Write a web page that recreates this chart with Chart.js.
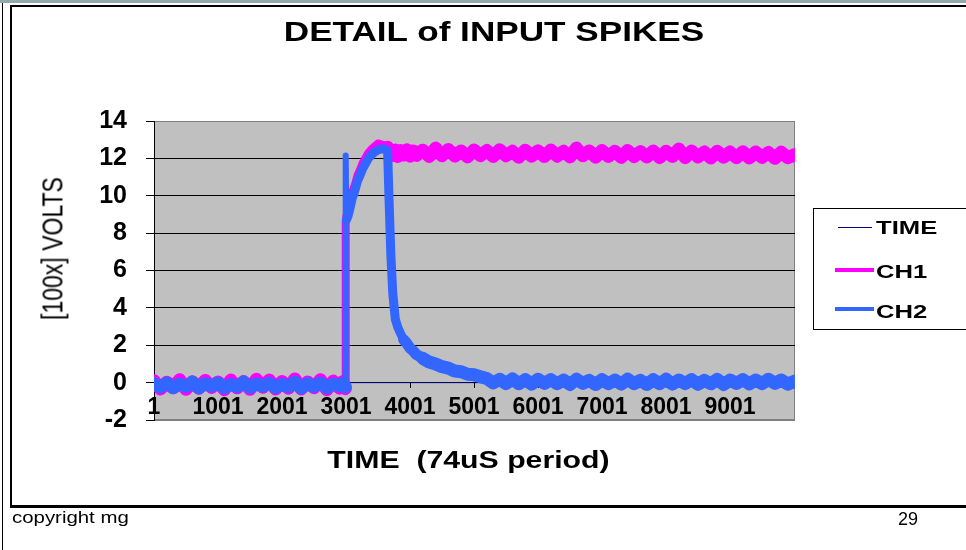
<!DOCTYPE html>
<html>
<head>
<meta charset="utf-8">
<title>DETAIL of INPUT SPIKES</title>
<script src="https://cdn.jsdelivr.net/npm/chart.js@4"></script>
<style>
  html, body { margin: 0; padding: 0; background: #fff; }
  body { width: 966px; height: 550px; position: relative; overflow: hidden;
         font-family: "Liberation Sans", Arial, sans-serif; color: #000; }
  .abs { position: absolute; white-space: pre; }
  #topbar { left: 0; top: 0; width: 966px; height: 3px; background: #94a9a9; }
  #outer { left: 2px; top: 3px; width: 1px; height: 547px; background: #000; }
  #frame { left: 10px; top: 5px; width: 1000px; height: 498px;
           border-left: 2px solid #000; border-top: 2px solid #000; border-bottom: 3px solid #000; }
  #chart { position: absolute; left: 0; top: 0; }
  #title { left: 0; top: 18px; width: 988px; text-align: center; font-weight: bold;
           font-size: 28px; line-height: 28px; transform: scaleX(1.255); }
  #xtitle { left: 0; top: 448px; width: 937px; text-align: center; font-weight: bold;
            font-size: 24px; line-height: 24px; transform: scaleX(1.26); }
  #ytitle { left: -47px; top: 237px; width: 200px; height: 23px; text-align: center;
            font-size: 23px; line-height: 23px; transform: scaleX(1.3) rotate(-90deg); }
  #legend { left: 813px; top: 208px; width: 170px; height: 120px; border: 1px solid #000; }
  .lg-line { position: absolute; }
  .lg-text { font-weight: bold; font-size: 19px; line-height: 19px; transform: scaleX(1.35);
             transform-origin: left center; }
  #copy { left: 12px; top: 509px; font-size: 17px; line-height: 17px; transform: scaleX(1.2);
          transform-origin: left center; }
  #page { left: 898px; top: 510px; font-size: 18px; line-height: 18px; }
</style>
</head>
<body>
<div class="abs" id="topbar"></div>
<div class="abs" id="outer"></div>
<div class="abs" id="frame"></div>
<canvas id="chart" width="966" height="550"></canvas>

<div class="abs" id="title">DETAIL of INPUT SPIKES</div>
<div class="abs" id="ytitle">[100x] VOLTS</div>
<div class="abs" id="xtitle">TIME  (74uS period)</div>

<div class="abs" id="legend"></div>
<div class="lg-line" style="left:838px;top:227px;width:34px;height:1px;background:#000080"></div>
<div class="abs lg-text" style="left:876px;top:218px">TIME</div>
<div class="lg-line" style="left:835px;top:268px;width:39px;height:4px;background:#ff00ff"></div>
<div class="abs lg-text" style="left:876px;top:262px">CH1</div>
<div class="lg-line" style="left:835px;top:307px;width:39px;height:4px;background:#3366ff"></div>
<div class="abs lg-text" style="left:876px;top:302px">CH2</div>

<div class="abs" id="copy">copyright mg</div>
<div class="abs" id="page">29</div>

<script>
// ─── Data (sample number -> volts /100) ───────────────────

const sampleNo = [
    1, 101, 201, 301, 401, 501, 601, 701, 801, 901,
    1001, 1101, 1201, 1301, 1401, 1501, 1601, 1701, 1801, 1901,
    2001, 2101, 2201, 2301, 2401, 2501, 2601, 2701, 2801, 2901,
    2951, 2991, 2996, 3006, 3031, 3061, 3101, 3141, 3181, 3221,
    3261, 3301, 3351, 3401, 3451, 3501, 3551, 3601, 3651, 3676,
    3701, 3731, 3771, 3811, 3851, 3901, 3951, 4001, 4051, 4101,
    4201, 4301, 4401, 4501, 4601, 4701, 4801, 4901, 5001, 5101,
    5201, 5301, 5401, 5501, 5601, 5701, 5801, 5901, 6001, 6101,
    6201, 6301, 6401, 6501, 6601, 6701, 6801, 6901, 7001, 7101,
    7201, 7301, 7401, 7501, 7601, 7701, 7801, 7901, 8001, 8101,
    8201, 8301, 8401, 8501, 8601, 8701, 8801, 8901, 9001, 9101,
    9201, 9301, 9401, 9501, 9601, 9701, 9801, 9901, 10016
];

const ch1Volts = [
    0.10, -0.34, 0.02, -0.28, 0.16, -0.36, 0.05, -0.30, 0.12, -0.26,
    0.04, -0.38, 0.14, -0.28, 0.06, -0.36, 0.18, -0.25, 0.14, -0.34,
    0.06, -0.30, 0.20, -0.34, 0.04, -0.28, 0.16, -0.38, 0.08, -0.30,
    0.05, -0.32, 8.60, 8.90, 9.20, 9.60, 10.20, 10.60, 11.10, 11.40,
    11.75, 12.00, 12.30, 12.50, 12.65, 12.80, 12.75, 12.70, 12.60, 12.45,
    12.40, 12.15, 12.45, 12.10, 12.42, 12.18, 12.46, 12.12, 12.40, 12.16,
    12.44, 12.10, 12.55, 12.14, 12.48, 12.12, 12.40, 12.08, 12.45, 12.15,
    12.42, 12.10, 12.46, 12.14, 12.38, 12.06, 12.44, 12.12, 12.40, 12.10,
    12.45, 12.12, 12.38, 12.08, 12.55, 12.14, 12.40, 12.06, 12.42, 12.10,
    12.38, 12.05, 12.42, 12.10, 12.36, 12.08, 12.40, 12.04, 12.38, 12.10,
    12.50, 12.04, 12.40, 12.08, 12.34, 12.02, 12.38, 12.06, 12.34, 12.04,
    12.36, 12.02, 12.34, 12.06, 12.32, 12.00, 12.34, 12.04, 12.20
];

const ch2Volts = [
    -0.05, -0.24, -0.02, -0.27, -0.08, -0.20, 0.02, -0.28, -0.06, -0.18,
    -0.02, -0.28, -0.10, -0.22, 0.03, -0.27, -0.07, -0.19, -0.03, -0.26,
    -0.09, -0.21, 0.02, -0.29, -0.05, -0.20, -0.02, -0.27, -0.08, -0.17,
    -0.04, -0.22, 12.15, 8.70, 8.90, 9.30, 9.90, 10.30, 10.80, 11.10,
    11.45, 11.70, 12.00, 12.20, 12.35, 12.45, 12.50, 12.50, 12.40, 9.50,
    6.90, 4.80, 3.40, 2.95, 2.65, 2.30, 2.10, 1.85, 1.70, 1.50,
    1.30, 1.10, 1.00, 0.85, 0.78, 0.62, 0.58, 0.45, 0.42, 0.32,
    0.22, -0.02, 0.18, -0.05, 0.20, -0.06, 0.16, -0.08, 0.18, -0.04,
    0.16, -0.06, 0.14, -0.10, 0.18, -0.04, 0.12, -0.10, 0.16, -0.06,
    0.14, -0.08, 0.18, -0.05, 0.12, -0.10, 0.16, -0.06, 0.18, -0.08,
    0.14, -0.05, 0.16, -0.09, 0.12, -0.06, 0.17, -0.10, 0.14, -0.04,
    0.16, -0.07, 0.14, -0.05, 0.18, -0.04, 0.14, -0.08, 0.08
];

// TIME series sits flat on zero
const timeSamples = [1, 10016];
const timeVals = [0, 0];

const xTickValues = [1, 1001, 2001, 3001, 4001, 5001, 6001, 7001, 8001, 9001];
const xTickLabels = ['1', '1001', '2001', '3001', '4001', '5001', '6001', '7001', '8001', '9001'];
const xMax = 10016;
const yMin = -2;
const yMax = 14;
const yStep = 2;

// ─── Chart ─────────────────────────────────────────────────

const FONT = '"Liberation Sans", Arial, sans-serif';

const toPoints = (xs, ys) => xs.map((x, i) => ({ x, y: ys[i] }));

// stroke width per segment: noisy flat parts look fat, fast edges thin
const widthBySample = stops => c => {
    const x = c.p0.parsed.x;
    for (const [upTo, w] of stops) {
        if (x < upTo) return w;
    }
    return stops[stops.length - 1][1];
};

// grey plot area with its thin border, like the Excel default
const plotBg = {
    id: 'plotBg',
    beforeDraw(chart) {
        const { ctx, chartArea: a } = chart;
        ctx.save();
        ctx.fillStyle = '#c0c0c0';
        ctx.fillRect(a.left, a.top, a.right - a.left, a.bottom - a.top);
        ctx.strokeStyle = '#808080';
        ctx.lineWidth = 1;
        ctx.strokeRect(a.left + 0.5, a.top + 0.5, a.right - a.left - 1, a.bottom - a.top - 1);
        ctx.restore();
    }
};

new Chart(document.getElementById('chart'), {
    type: 'line',
    data: {
        datasets: [
            {
                label: 'TIME',
                data: toPoints(timeSamples, timeVals),
                borderColor: '#000080',
                borderWidth: 1,
                order: 3
            },
            {
                label: 'CH1',
                data: toPoints(sampleNo, ch1Volts),
                borderColor: '#ff00ff',
                borderWidth: 13,
                segment: { borderWidth: widthBySample([[2991, 13], [3651, 8], [Infinity, 13]]) },
                order: 2
            },
            {
                label: 'CH2',
                data: toPoints(sampleNo, ch2Volts),
                borderColor: '#3366ff',
                borderWidth: 13,
                segment: {
                    borderWidth: widthBySample([
                        [2991, 13], [3006, 6], [3901, 9], [4201, 11], [Infinity, 13]
                    ])
                },
                order: 1
            }
        ]
    },
    options: {
        responsive: false,
        animation: false,
        devicePixelRatio: 1,
        layout: { padding: { top: 121, right: 171, bottom: 130, left: 0 } },
        elements: {
            point: { radius: 0 },
            line: { tension: 0, borderJoinStyle: 'round', borderCapStyle: 'round' }
        },
        plugins: {
            legend: { display: false },
            tooltip: { enabled: false }
        },
        scales: {
            x: {
                type: 'linear',
                min: 1,
                max: xMax,
                position: { y: 0 },
                afterBuildTicks: axis => { axis.ticks = xTickValues.map(v => ({ value: v })); },
                ticks: {
                    autoSkip: false,
                    maxRotation: 0,
                    padding: 6,
                    color: '#000',
                    font: { family: FONT, size: 23, weight: 'bold' },
                    callback: (v, i) => xTickLabels[i]
                },
                grid: { drawOnChartArea: false, tickLength: 5, color: '#000' },
                border: { display: false }
            },
            y: {
                min: yMin,
                max: yMax,
                afterFit: axis => { axis.width = 154; },
                ticks: {
                    stepSize: yStep,
                    padding: 19,
                    color: '#000',
                    font: { family: FONT, size: 25, weight: 'bold' }
                },
                grid: {
                    color: c => (c.tick.value === yMin || c.tick.value === yMax) ? '#808080' : '#000',
                    tickColor: '#000',
                    tickLength: 8
                },
                border: { color: '#000' }
            }
        }
    },
    plugins: [plotBg]
});
</script>
</body>
</html>
